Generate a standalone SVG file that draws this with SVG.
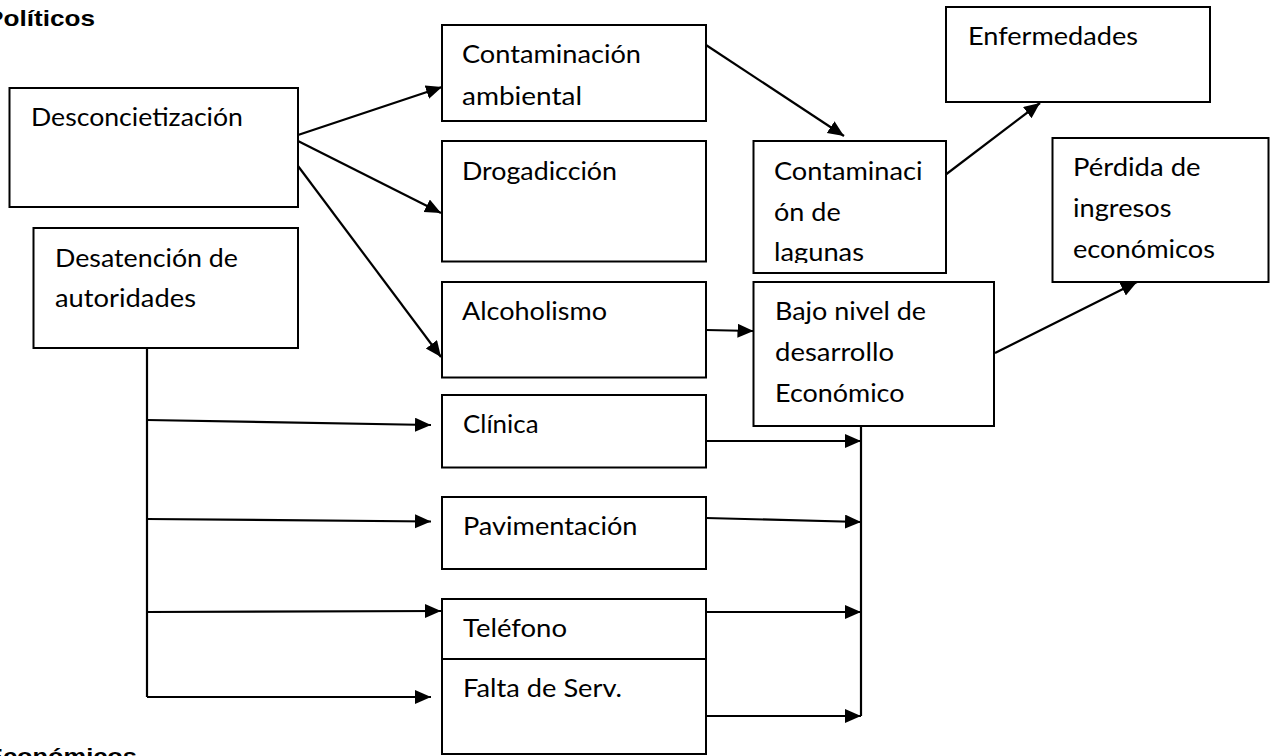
<svg xmlns="http://www.w3.org/2000/svg" width="1277" height="756" viewBox="0 0 1277 756">
<style>
.box{fill:#fff;stroke:#000;stroke-width:2}
.t{font-family:Lato,"Open Sans","Liberation Sans",sans-serif;font-size:25px;fill:#000}
.h{font-family:"Liberation Sans",Arial,sans-serif;font-size:22px;font-weight:bold;fill:#000}
.c{fill:none;stroke:#000;stroke-width:2.2}
.a{fill:none;stroke:#000;stroke-width:2.2;marker-end:url(#ah)}
</style>
<defs>
<marker id="ah" markerUnits="userSpaceOnUse" markerWidth="17" markerHeight="15" refX="16" refY="7" orient="auto">
<path d="M0,0 L16,7 L0,14 z" fill="#000"/>
</marker>
<clipPath id="clipLag"><rect x="753" y="141" width="193" height="122"/></clipPath>
</defs>
<rect width="1277" height="756" fill="#fff"/>
<text class="h" x="-14" y="26" textLength="109" lengthAdjust="spacingAndGlyphs">Políticos</text>
<text class="h" x="-14" y="763.5" textLength="151" lengthAdjust="spacingAndGlyphs">Económicos</text>

<g id="connectors">
<line class="a" x1="298" y1="135" x2="442" y2="87"/>
<line class="a" x1="298" y1="141" x2="441" y2="213"/>
<line class="a" x1="298" y1="166" x2="441" y2="357"/>
<line class="a" x1="706" y1="45" x2="844" y2="136"/>
<line class="a" x1="946.5" y1="174" x2="1040" y2="103"/>
<line class="a" x1="706" y1="330" x2="753.5" y2="331"/>
<line class="a" x1="995" y1="353" x2="1137" y2="282"/>
<line class="c" x1="147" y1="348" x2="147" y2="697"/>
<line class="a" x1="147" y1="420" x2="431" y2="425"/>
<line class="a" x1="147" y1="519" x2="431" y2="521.5"/>
<line class="a" x1="147" y1="612" x2="441" y2="611"/>
<line class="a" x1="147" y1="697" x2="431" y2="697"/>
<line class="c" x1="861" y1="426" x2="861" y2="716"/>
<line class="a" x1="706" y1="441" x2="861" y2="441"/>
<line class="a" x1="706" y1="518" x2="861" y2="522"/>
<line class="a" x1="706" y1="612" x2="861" y2="612"/>
<line class="a" x1="706" y1="716" x2="861" y2="716"/>
</g>

<g id="n-desconcietizacion">
<rect class="box" x="9.5" y="88" width="288.5" height="119"/>
<text class="t" x="31" y="126" textLength="212" lengthAdjust="spacingAndGlyphs">Desconcietización</text>
</g>
<g id="n-desatencion">
<rect class="box" x="33.5" y="228" width="264.5" height="120"/>
<text class="t" x="55" y="267" textLength="183" lengthAdjust="spacingAndGlyphs">Desatención de</text>
<text class="t" x="55" y="307" textLength="141" lengthAdjust="spacingAndGlyphs">autoridades</text>
</g>
<g id="n-contaminacion-ambiental">
<rect class="box" x="442" y="25" width="264" height="96"/>
<text class="t" x="462" y="63" textLength="179" lengthAdjust="spacingAndGlyphs">Contaminación</text>
<text class="t" x="462" y="105" textLength="120" lengthAdjust="spacingAndGlyphs">ambiental</text>
</g>
<g id="n-drogadiccion">
<rect class="box" x="442" y="141" width="264" height="120.5"/>
<text class="t" x="462" y="180" textLength="155" lengthAdjust="spacingAndGlyphs">Drogadicción</text>
</g>
<g id="n-alcoholismo">
<rect class="box" x="442" y="282" width="264" height="95.5"/>
<text class="t" x="462" y="320" textLength="145" lengthAdjust="spacingAndGlyphs">Alcoholismo</text>
</g>
<g id="n-clinica">
<rect class="box" x="442" y="395" width="264" height="72.5"/>
<text class="t" x="463" y="433" textLength="75.5" lengthAdjust="spacingAndGlyphs">Clínica</text>
</g>
<g id="n-pavimentacion">
<rect class="box" x="442" y="497" width="264" height="72"/>
<text class="t" x="463" y="535" textLength="174.5" lengthAdjust="spacingAndGlyphs">Pavimentación</text>
</g>
<g id="n-telefono">
<rect class="box" x="442" y="599" width="264" height="60"/>
<text class="t" x="463" y="637" textLength="104" lengthAdjust="spacingAndGlyphs">Teléfono</text>
</g>
<g id="n-falta">
<rect class="box" x="442" y="659" width="264" height="95"/>
<text class="t" x="463" y="697" textLength="159" lengthAdjust="spacingAndGlyphs">Falta de Serv.</text>
</g>
<g id="n-enfermedades">
<rect class="box" x="946" y="7" width="264" height="95"/>
<text class="t" x="968" y="45" textLength="170" lengthAdjust="spacingAndGlyphs">Enfermedades</text>
</g>
<g id="n-contaminacion-lagunas">
<rect class="box" x="753.5" y="141" width="192.5" height="132"/>
<g clip-path="url(#clipLag)">
<text class="t" x="774" y="180" textLength="148.5" lengthAdjust="spacingAndGlyphs">Contaminaci</text>
<text class="t" x="774" y="221" textLength="66.7" lengthAdjust="spacingAndGlyphs">ón de</text>
<text class="t" x="774" y="261" textLength="90" lengthAdjust="spacingAndGlyphs">lagunas</text>
</g>
</g>
<g id="n-perdida">
<rect class="box" x="1052.5" y="138" width="216" height="144"/>
<text class="t" x="1073" y="176" textLength="127.5" lengthAdjust="spacingAndGlyphs">Pérdida de</text>
<text class="t" x="1073" y="217" textLength="98.5" lengthAdjust="spacingAndGlyphs">ingresos</text>
<text class="t" x="1073" y="258" textLength="142" lengthAdjust="spacingAndGlyphs">económicos</text>
</g>
<g id="n-bajo-nivel">
<rect class="box" x="753.5" y="282" width="240.5" height="144"/>
<text class="t" x="775" y="320" textLength="151" lengthAdjust="spacingAndGlyphs">Bajo nivel de</text>
<text class="t" x="775" y="361" textLength="119" lengthAdjust="spacingAndGlyphs">desarrollo</text>
<text class="t" x="775" y="402" textLength="129.5" lengthAdjust="spacingAndGlyphs">Económico</text>
</g>
</svg>
